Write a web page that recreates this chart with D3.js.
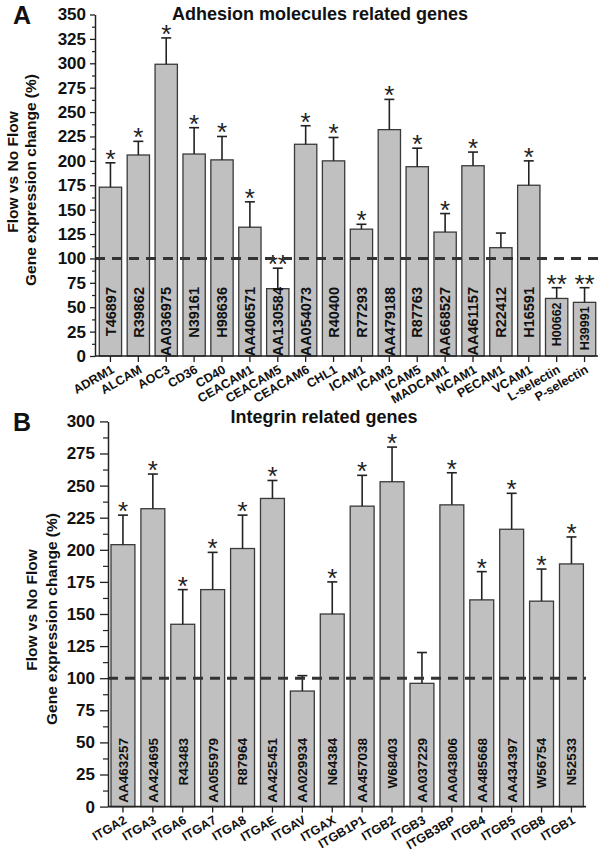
<!DOCTYPE html>
<html>
<head>
<meta charset="utf-8">
<script src="https://cdn.jsdelivr.net/npm/d3@7"></script>
<style>
  html, body { margin: 0; padding: 0; background: #fff; }
  svg text { font-family: "Liberation Sans", Arial, Helvetica, sans-serif; }
</style>
</head>
<body>
<svg id="chart" width="600" height="851"></svg>
<script>
// ---------- Panel A: adhesion molecules ----------
const adhGenes = ["ADRM1","ALCAM","AOC3","CD36","CD40","CEACAM1","CEACAM5","CEACAM6","CHL1","ICAM1","ICAM3","ICAM5","MADCAM1","NCAM1","PECAM1","VCAM1","L-selectin","P-selectin"];
const adhAccessions = ["T46897","R39862","AA036975","N39161","H98636","AA406571","AA130584","AA054073","R40400","R77293","AA479188","R87763","AA668527","AA461157","R22412","H16591","H00662","H39991"];
const adhValues = [173,206,299,207,201,132,69,217,200,130,232,194,127,195,111,175,59,55];
const adhErrors = [25,14,27,27,24,26,21,19,24,5,31,19,19,14,15,25,11,15];
const adhSig = ["*","*","*","*","*","*","**","*","*","*","*","*","*","*","","*","**","**"];
const adhTicks = [0,25,50,75,100,125,150,175,200,225,250,275,300,325,350];

// ---------- Panel B: integrins ----------
const intGenes = ["ITGA2","ITGA3","ITGA6","ITGA7","ITGA8","ITGAE","ITGAV","ITGAX","ITGB1P1","ITGB2","ITGB3","ITGB3BP","ITGB4","ITGB5","ITGB8","ITGB1"];
const intAccessions = ["AA463257","AA424695","R43483","AA055979","R87964","AA425451","AA029934","N64384","AA457038","W68403","AA037229","AA043806","AA485668","AA434397","W56754","N52533"];
const intValues = [204,232,142,169,201,240,90,150,234,253,96,235,161,216,160,189];
const intErrors = [23,27,27,29,26,14,12,25,24,27,24,25,22,28,25,21];
const intSig = ["*","*","*","*","*","*","","*","*","*","","*","*","*","*","*"];
const intTicks = [0,25,50,75,100,125,150,175,200,225,250,275,300];

const referenceValue = 100;
const FONT = "'Liberation Sans', Arial, sans-serif";

const svg = d3.select("#chart");

function drawPanel(cfg) {
  const g = svg.append("g");
  const data = cfg.genes.map((gname, i) => ({
    gene: gname, acc: cfg.acc[i], v: cfg.values[i], e: cfg.errors[i], s: cfg.sig[i]
  }));

  const x = d3.scaleBand().domain(cfg.genes).range(cfg.xRange).paddingInner(0.2).paddingOuter(0.1);
  const yMax = cfg.ticks[cfg.ticks.length - 1];
  const y = d3.scaleLinear().domain([0, yMax]).range(cfg.yRange);
  const cx = d => x(d.gene) + x.bandwidth() / 2;

  // bars
  g.selectAll("rect.bar").data(data).enter().append("rect")
    .attr("class", "bar")
    .attr("x", d => x(d.gene))
    .attr("width", x.bandwidth())
    .attr("y", d => y(d.v))
    .attr("height", d => y(0) - y(d.v))
    .attr("fill", "#c0c0c0")
    .attr("stroke", "#3a3a3a")
    .attr("stroke-width", 1.3);

  // error bars
  const cap = 10;
  const eb = g.selectAll("g.err").data(data).enter().append("g").attr("class", "err");
  eb.append("line")
    .attr("x1", cx).attr("x2", cx)
    .attr("y1", d => y(d.v))
    .attr("y2", d => y(d.v + d.e))
    .attr("stroke", "#222").attr("stroke-width", 1.6);
  eb.append("line")
    .attr("x1", d => cx(d) - cap / 2)
    .attr("x2", d => cx(d) + cap / 2)
    .attr("y1", d => y(d.v + d.e))
    .attr("y2", d => y(d.v + d.e))
    .attr("stroke", "#222").attr("stroke-width", 1.6);

  // significance stars
  g.selectAll("text.star").data(data.filter(d => d.s)).enter().append("text")
    .attr("class", "star")
    .attr("x", cx)
    .attr("y", d => y(d.v + d.e) + 5)
    .attr("text-anchor", "middle")
    .attr("font-size", 26)
    .attr("fill", "#222")
    .text(d => d.s);

  // accession labels inside bars
  const endY = y(0) - cfg.accEndOffset;
  g.selectAll("text.acc").data(data).enter().append("text")
    .attr("class", "acc")
    .attr("transform", d => {
      const small = y(d.v) > endY + 5;
      const f = small ? cfg.accFont - 2 : cfg.accFont;
      const ey = small ? y(d.v) + 4 : endY;
      return `translate(${cx(d) + f * 0.36},${ey}) rotate(-90)`;
    })
    .attr("text-anchor", "end")
    .attr("font-size", d => (y(d.v) > endY + 5 ? cfg.accFont - 2 : cfg.accFont))
    .attr("font-weight", "bold")
    .attr("fill", "#111")
    .text(d => d.acc);

  // dashed reference line
  g.append("line")
    .attr("x1", cfg.axisX).attr("x2", cfg.lineEnd)
    .attr("y1", y(referenceValue)).attr("y2", y(referenceValue))
    .attr("stroke", "#333").attr("stroke-width", 3)
    .attr("stroke-dasharray", "10,7");

  // y axis (major)
  const yAxis = d3.axisLeft(y).tickValues(cfg.ticks).tickSize(cfg.majorTick).tickSizeOuter(0).tickPadding(cfg.tickPad);
  const ya = g.append("g").attr("transform", `translate(${cfg.axisX},0)`).call(yAxis);
  ya.attr("font-family", FONT);
  ya.selectAll("text").attr("font-size", 17).attr("font-weight", "bold").attr("fill", "#111");
  ya.selectAll("line").attr("stroke", "#222").attr("stroke-width", 1.3);
  ya.select(".domain").attr("stroke", "#222").attr("stroke-width", 1.5);

  // minor ticks
  const minor = cfg.ticks.slice(0, -1).map((t, i) => (t + cfg.ticks[i + 1]) / 2);
  const ym = g.append("g").attr("transform", `translate(${cfg.axisX},0)`)
    .call(d3.axisLeft(y).tickValues(minor).tickSize(cfg.minorTick).tickSizeOuter(0).tickFormat(""));
  ym.select(".domain").remove();
  ym.selectAll("line").attr("stroke", "#222").attr("stroke-width", 1.2);

  // x axis
  const xAxis = d3.axisBottom(x).tickSize(6).tickSizeOuter(0).tickFormat("");
  const xa = g.append("g").attr("transform", `translate(0,${y(0)})`).call(xAxis);
  xa.select(".domain").remove();
  xa.selectAll("line").attr("stroke", "#222").attr("stroke-width", 1.3);
  g.append("line")
    .attr("x1", cfg.axisX).attr("x2", cfg.lineEnd)
    .attr("y1", y(0)).attr("y2", y(0))
    .attr("stroke", "#222").attr("stroke-width", 1.6);

  // x labels (rotated)
  g.selectAll("text.xl").data(data).enter().append("text")
    .attr("class", "xl")
    .attr("transform", d => `translate(${cx(d) + 4.5},${y(0) + 16}) rotate(-30)`)
    .attr("text-anchor", "end")
    .attr("font-size", 12.5)
    .attr("font-weight", "bold")
    .attr("fill", "#111")
    .text(d => d.gene);

  // title
  g.append("text")
    .attr("x", cfg.titleX).attr("y", cfg.titleY)
    .attr("text-anchor", "middle")
    .attr("font-size", 18).attr("font-weight", "bold").attr("fill", "#111")
    .text(cfg.title);

  // panel letter
  g.append("text")
    .attr("x", 13).attr("y", cfg.letterY)
    .attr("font-size", 25).attr("font-weight", "bold").attr("fill", "#111")
    .text(cfg.letter);

  // y axis title (two lines)
  g.append("text")
    .attr("transform", `translate(${cfg.yTitleX1},${cfg.yTitleC1}) rotate(-90)`)
    .attr("text-anchor", "middle")
    .attr("font-size", 15.5).attr("font-weight", "bold").attr("fill", "#111")
    .text("Flow vs No Flow");
  g.append("text")
    .attr("transform", `translate(${cfg.yTitleX2},${cfg.yTitleC2}) rotate(-90)`)
    .attr("text-anchor", "middle")
    .attr("font-size", 15.5).attr("font-weight", "bold").attr("fill", "#111")
    .text("Gene expression change (%)");
}

drawPanel({
  genes: adhGenes, acc: adhAccessions, values: adhValues, errors: adhErrors, sig: adhSig, ticks: adhTicks,
  xRange: [96.5, 598.5], yRange: [356, 14.5], axisX: 95, lineEnd: 598,
  majorTick: 5, minorTick: 3, tickPad: 4, accFont: 14.5, accEndOffset: 69,
  title: "Adhesion molecules related genes", titleX: 320, titleY: 20,
  letter: "A", letterY: 24,
  yTitleX1: 18, yTitleC1: 172, yTitleX2: 36, yTitleC2: 180
});

drawPanel({
  genes: intGenes, acc: intAccessions, values: intValues, errors: intErrors, sig: intSig, ticks: intTicks,
  xRange: [108, 586.4], yRange: [806.6, 421.4], axisX: 108, lineEnd: 586,
  majorTick: 8, minorTick: 5, tickPad: 5, accFont: 13.5, accEndOffset: 68.5,
  title: "Integrin related genes", titleX: 324, titleY: 423,
  letter: "B", letterY: 431,
  yTitleX1: 37, yTitleC1: 610, yTitleX2: 57, yTitleC2: 619
});
</script>
</body>
</html>
